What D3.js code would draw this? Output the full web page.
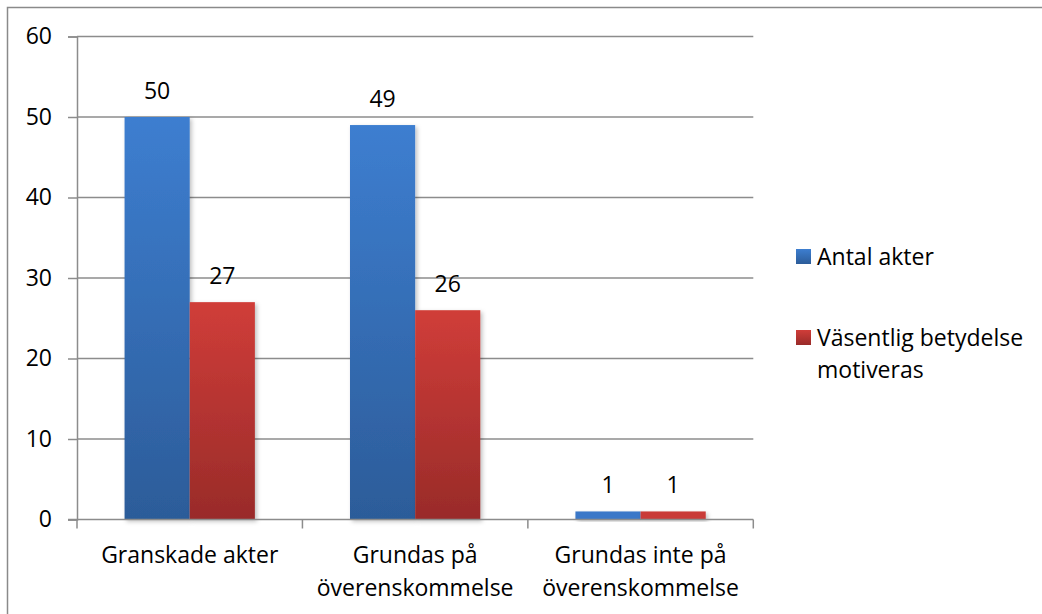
<!DOCTYPE html>
<html>
<head>
<meta charset="utf-8">
<script src="https://cdn.jsdelivr.net/npm/d3@7"></script>
<style>
  body { margin: 0; background: #fff; }
  svg { display: block; font-family: "Open Sans", "Noto Sans", sans-serif; }
</style>
</head>
<body>
<div id="chart"></div>
<script>
// data
var categories = ["Granskade akter", "Grundas på överenskommelse", "Grundas inte på överenskommelse"];
var categoryLines = [["Granskade akter"], ["Grundas på", "överenskommelse"], ["Grundas inte på", "överenskommelse"]];
var seriesNames = ["Antal akter", "Väsentlig betydelse motiveras"];
var legendLines = [["Antal akter"], ["Väsentlig betydelse", "motiveras"]];
var antalAkter = [50, 49, 1];
var vasentlig = [27, 26, 1];
var yTicks = [0, 10, 20, 30, 40, 50, 60];

var W = 1042, H = 614;
var plotLeft = 77, plotRight = 753.3, plotTop = 36.5, plotBottom = 519.5;
var fontSize = 23;

var svg = d3.select("#chart").append("svg")
    .attr("width", W)
    .attr("height", H);

var defs = svg.append("defs");
var grads = [["gBlue", "#3d7ed0", "#2c5c99"], ["gRed", "#d03d39", "#992b29"]];
grads.forEach(function(g) {
  var lg = defs.append("linearGradient").attr("id", g[0])
      .attr("x1", 0).attr("y1", 0).attr("x2", 0).attr("y2", 1);
  lg.append("stop").attr("offset", "0%").attr("stop-color", g[1]);
  lg.append("stop").attr("offset", "100%").attr("stop-color", g[2]);
});
var f = defs.append("filter").attr("id", "shadow")
    .attr("x", "-10%").attr("y", "-10%").attr("width", "130%").attr("height", "130%");
f.append("feDropShadow").attr("dx", 2).attr("dy", 2).attr("stdDeviation", 2)
    .attr("flood-color", "#000").attr("flood-opacity", 0.25);

// outer border
svg.append("rect")
    .attr("x", 7.5).attr("y", 7.5)
    .attr("width", W + 10).attr("height", H + 10)
    .attr("fill", "none").attr("stroke", "#8a8a8a").attr("stroke-width", 1.5);

var x0 = d3.scaleBand()
    .domain(categories)
    .range([plotLeft, plotRight])
    .paddingInner(0).paddingOuter(0);

var x1 = d3.scaleBand()
    .domain(seriesNames)
    .range([0, x0.bandwidth()])
    .paddingInner(0).paddingOuter(0.73);

var y = d3.scaleLinear()
    .domain([0, 60])
    .range([plotBottom, plotTop]);

var color = d3.scaleOrdinal().domain(seriesNames).range(["url(#gBlue)", "url(#gRed)"]);
var flat = d3.scaleOrdinal().domain(seriesNames).range(["#3a78c8", "#c93a37"]);

// gridlines
svg.append("g").selectAll("line")
    .data(yTicks.filter(function(d) { return d > 0; }))
  .enter().append("line")
    .attr("x1", plotLeft).attr("x2", plotRight)
    .attr("y1", function(d) { return y(d); })
    .attr("y2", function(d) { return y(d); })
    .attr("stroke", "#8c8c8c").attr("stroke-width", 1.5);

// y axis
var yAxis = svg.append("g")
    .attr("transform", "translate(" + plotLeft + ",0)")
    .call(d3.axisLeft(y).tickValues(yTicks).tickSize(9).tickPadding(16));
yAxis.select(".domain").attr("stroke", "#8c8c8c").attr("stroke-width", 1.5);
yAxis.selectAll(".tick line").attr("stroke", "#8c8c8c").attr("stroke-width", 1.5);
yAxis.selectAll(".tick text")
    .attr("font-size", fontSize).attr("fill", "#000")
    .attr("font-family", "Open Sans, sans-serif");

// bars
var data = categories.map(function(c, i) {
  return { cat: c, values: [
    { name: seriesNames[0], value: antalAkter[i] },
    { name: seriesNames[1], value: vasentlig[i] }
  ]};
});

var groups = svg.append("g").selectAll("g")
    .data(data)
  .enter().append("g")
    .attr("transform", function(d) { return "translate(" + x0(d.cat) + ",0)"; });

groups.selectAll("rect")
    .data(function(d) { return d.values; })
  .enter().append("rect")
    .attr("x", function(d) { return x1(d.name); })
    .attr("y", function(d) { return y(d.value); })
    .attr("width", x1.bandwidth())
    .attr("height", function(d) { return y(0) - y(d.value); })
    .attr("fill", function(d) { return d.value > 2 ? color(d.name) : flat(d.name); })
    .attr("filter", "url(#shadow)");

groups.selectAll("text")
    .data(function(d) { return d.values; })
  .enter().append("text")
    .attr("x", function(d) { return x1(d.name) + x1.bandwidth() / 2; })
    .attr("y", function(d) { return y(d.value) - 18; })
    .attr("text-anchor", "middle")
    .attr("font-size", fontSize)
    .text(function(d) { return d.value; });

// x axis
svg.append("line")
    .attr("x1", plotLeft - 9).attr("x2", plotRight)
    .attr("y1", plotBottom).attr("y2", plotBottom)
    .attr("stroke", "#8c8c8c").attr("stroke-width", 1.5);

var bounds = categories.map(function(c) { return x0(c); }).concat([plotRight]);
svg.append("g").selectAll("line")
    .data(bounds)
  .enter().append("line")
    .attr("x1", function(d) { return d; }).attr("x2", function(d) { return d; })
    .attr("y1", plotBottom).attr("y2", plotBottom + 9)
    .attr("stroke", "#8c8c8c").attr("stroke-width", 1.5);

var catLabels = svg.append("g").selectAll("text")
    .data(categories)
  .enter().append("text")
    .attr("text-anchor", "middle")
    .attr("font-size", fontSize)
    .attr("y", 563);
catLabels.selectAll("tspan")
    .data(function(d, i) { return categoryLines[i].map(function(t) { return { t: t, c: d }; }); })
  .enter().append("tspan")
    .attr("x", function(d) { return x0(d.c) + x0.bandwidth() / 2; })
    .attr("dy", function(d, i) { return i === 0 ? 0 : 33; })
    .text(function(d) { return d.t; });

// legend
var legend = svg.append("g").selectAll("g")
    .data(seriesNames)
  .enter().append("g")
    .attr("transform", function(d, i) { return "translate(796," + (249 + i * 81) + ")"; });

legend.append("rect")
    .attr("width", 15).attr("height", 15)
    .attr("fill", function(d) { return color(d); });

legend.append("text")
    .attr("x", 21).attr("y", 16)
    .attr("font-size", fontSize)
    .selectAll("tspan")
    .data(function(d, i) { return legendLines[i]; })
  .enter().append("tspan")
    .attr("x", 21)
    .attr("dy", function(d, i) { return i === 0 ? 0 : 32; })
    .text(function(d) { return d; });
</script>
</body>
</html>
